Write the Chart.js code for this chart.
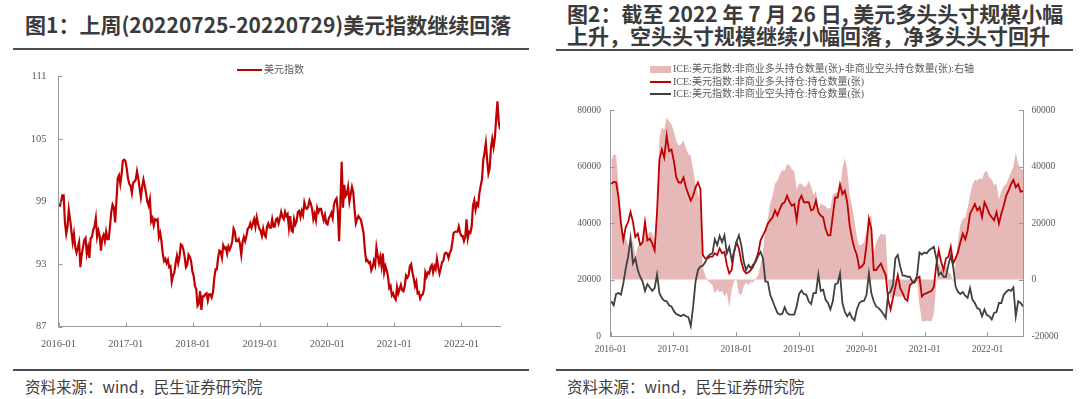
<!DOCTYPE html>
<html lang="zh-CN">
<head>
<meta charset="UTF-8">
<title>美元指数与ICE美元指数持仓</title>
<script src="https://cdn.jsdelivr.net/npm/chart.js"></script>
<style>
  body { margin: 0; width: 1080px; height: 399px; background: #fff; position: relative; overflow: hidden;
         font-family: "Noto Sans CJK SC", sans-serif; }
  .title { position: absolute; font-weight: 700; font-size: 21px; color: #3b3b3b; white-space: nowrap; }
  .rule { position: absolute; height: 2px; background: #4d4d4d; }
  .source { position: absolute; font-size: 15.5px; line-height: 20px; color: #404040; white-space: nowrap; }
  canvas { position: absolute; }
  .legend { position: absolute; font-family: "Liberation Serif", "Noto Sans CJK SC", serif; font-size: 10px;
            color: #595959; white-space: nowrap; }
  .legend div { height: 12.5px; line-height: 12.5px; display: flex; align-items: center; }
  .sw { display: inline-block; width: 21px; margin-right: 2px; }
</style>
</head>
<body>
  <div class="title" style="left:25px; top:10px; line-height:28px;">图1：上周(20220725-20220729)美元指数继续回落</div>
  <div class="rule" style="left:13px; top:48px; width:516px;"></div>

  <div class="title" style="left:567px; top:2px; line-height:22px;">图2：截至 2022 年 7 月 26 日, 美元多头头寸规模小幅<br>上升，空头头寸规模继续小幅回落，净多头头寸回升</div>
  <div class="rule" style="left:556px; top:49px; width:517px;"></div>

  <canvas id="c1" width="520" height="300" style="left:0; top:58px; width:520px; height:300px;"></canvas>
  <canvas id="c2" width="535" height="265" style="left:545px; top:95px; width:535px; height:265px;"></canvas>

  <div class="legend" style="left:237px; top:64px;">
    <div><span class="sw" style="height:2px; background:#c00000; width:25px;"></span>美元指数</div>
  </div>
  <div class="legend" style="left:650px; top:63px;">
    <div><span class="sw" style="height:7px; background:#e6b9b8;"></span>ICE:美元指数:非商业多头持仓数量(张)-非商业空头持仓数量(张):右轴</div>
    <div><span class="sw" style="height:2px; background:#c00000;"></span>ICE:美元指数:非商业多头持仓:持仓数量(张)</div>
    <div><span class="sw" style="height:2px; background:#404040;"></span>ICE:美元指数:非商业空头持仓:持仓数量(张)</div>
  </div>

  <div class="rule" style="left:13px; top:369px; width:516px;"></div>
  <div class="rule" style="left:556px; top:369px; width:517px;"></div>
  <div class="source" style="left:25px; top:376px;">资料来源：wind，民生证券研究院</div>
  <div class="source" style="left:567px; top:376px;">资料来源：wind，民生证券研究院</div>

<script>
// x axis labels shared by both charts
const xTickYears = [2016, 2017, 2018, 2019, 2020, 2021, 2022];
const xTickLabels = ['2016-01', '2017-01', '2018-01', '2019-01', '2020-01', '2021-01', '2022-01'];

// 图1 美元指数, weekly (Fridays) from 2016-01-08 to 2022-07-29
const dxyStart = '2016-01-08';
const dxy2016 = [98.5, 99.0, 99.6, 99.6, 97.0, 95.9, 96.6, 98.2, 97.3, 96.2, 95.1, 95.9,
  94.6, 94.1, 94.6, 95.1, 92.7, 93.9, 94.6, 95.3, 95.5, 94.0, 94.6, 93.6, 95.5,
  95.6, 96.3, 96.6, 97.4, 95.6, 96.2, 95.7, 94.3, 95.5, 95.8, 95.2, 96.1, 95.4, 95.4,
  96.6, 98.0, 98.7, 98.4, 97.0, 99.0, 101.2, 101.5, 100.7, 101.6, 102.9, 103.0, 102.9];
const dxy2017 = [102.2, 101.2, 100.7, 100.5, 99.8, 100.8, 100.9, 101.1, 101.9, 101.2, 100.3, 99.4, 100.4,
  101.1, 100.5, 99.8, 99.0, 98.6, 99.2, 97.1, 97.4, 96.7, 97.3, 97.2, 97.3, 95.6,
  96.0, 95.2, 94.0, 93.3, 93.5, 93.1, 93.4, 92.7, 92.8, 91.3, 91.9, 92.2, 93.1,
  93.8, 93.1, 93.7, 94.9, 94.8, 94.4, 93.7, 92.7, 92.9, 93.9, 93.7, 93.3, 92.3];
const dxy2018 = [91.9, 90.9, 90.6, 89.0, 89.2, 90.4, 88.6, 89.9, 89.9, 90.1, 90.2, 89.5, 90.1,
  90.1, 89.8, 90.3, 91.6, 92.5, 92.5, 93.6, 94.3, 94.2, 93.6, 94.8, 94.5, 94.6,
  94.0, 94.7, 94.4, 94.7, 95.2, 96.4, 96.1, 95.2, 95.2, 95.4, 94.9, 93.9, 95.1,
  95.6, 95.2, 95.7, 96.4, 96.5, 96.9, 96.5, 96.9, 97.3, 96.6, 97.5, 96.9, 96.4];
const dxy2019 = [96.2, 95.7, 96.4, 95.8, 95.6, 96.6, 96.9, 96.5, 96.5, 97.3, 96.6, 96.6, 97.3,
  97.4, 96.9, 97.4, 98.0, 97.5, 97.3, 98.0, 97.6, 97.8, 96.5, 97.6, 96.2, 96.1,
  97.3, 96.8, 97.1, 98.0, 98.1, 97.5, 98.1, 97.7, 98.9, 98.4, 98.3, 98.5, 99.1,
  98.8, 98.3, 97.3, 97.8, 97.2, 98.4, 98.0, 98.3, 98.3, 97.7, 97.2, 97.7, 96.9];
const dxy2020 = [96.8, 97.4, 97.6, 97.9, 97.4, 98.7, 99.1, 99.3, 98.1, 95.2, 98.7, 102.8, 98.4,
  100.6, 99.5, 99.7, 100.4, 99.0, 99.7, 100.4, 99.9, 98.3, 96.9, 97.3, 97.6, 97.4,
  97.2, 96.6, 96.0, 94.4, 93.3, 93.4, 93.1, 93.2, 92.4, 92.7, 93.3, 92.9, 94.6,
  93.8, 93.1, 93.7, 92.8, 94.0, 92.2, 92.8, 92.4, 91.8, 90.7, 90.9, 90.0, 90.2];
const dxy2021 = [89.8, 89.6, 90.8, 90.2, 90.6, 91.0, 90.5, 90.4, 90.9, 91.9, 91.7, 91.9, 92.8,
  93.0, 92.2, 91.6, 90.9, 91.3, 90.2, 90.3, 89.7, 90.0, 90.1, 90.6, 92.2, 91.8,
  92.2, 92.1, 92.7, 92.9, 92.2, 92.8, 92.5, 93.5, 92.7, 92.1, 92.6, 93.2, 93.3,
  94.0, 94.1, 94.0, 93.6, 94.1, 94.3, 95.1, 96.0, 96.1, 96.1, 96.1, 96.6, 96.0, 95.7];
const dxy2022 = [95.7, 95.2, 95.6, 97.3, 95.5, 96.1, 96.0, 96.6, 98.6, 99.1, 98.2, 98.8,
  98.6, 99.8, 100.5, 101.1, 103.0, 103.7, 104.6, 103.0, 101.7, 102.2, 104.2, 105.0, 104.2,
  105.1, 106.9, 108.6, 106.7, 105.9];

// 图2 ICE美元指数 非商业持仓, every second weekly report from 2016-01-05 to 2022-07-26
const cotStart = '2016-01-05';
const longPos = [54000, 54600, 54500, 49100, 40000, 34000, 38600, 40400, 43900, 40400,
  35100, 36300, 32200, 33300, 40400, 33900, 34500, 32800, 30400, 43900,
  62600, 66100, 63200, 71000, 65500, 66100, 62000, 56200, 54400, 54400,
  56200, 52700, 50300, 48000, 49700, 52700, 54400, 52100, 28700, 27500,
  27500, 28100, 28100, 29300, 28700, 31000, 29300, 29800, 25200, 22200,
  23400, 29800, 33300, 31000, 26300, 23400, 22200, 22600, 23400, 24600,
  26900, 29300, 33900, 35700, 37400, 39800, 41000, 42100, 44500, 42700,
  45000, 46800, 47400, 49700, 47600, 46200, 46800, 41000, 48000, 49700,
  47400, 47400, 47400, 44500, 45000, 48000, 43900, 42700, 42100, 38000,
  35700, 35700, 42700, 49100, 49100, 53800, 50300, 51500, 47400, 39200,
  34500, 31000, 28700, 24000, 24600, 25700, 32200, 41500, 38000, 23400,
  23400, 24600, 25700, 23400, 21600, 12900, 9400, 13500, 17500, 21600,
  17000, 15200, 13200, 12500, 18100, 18700, 19000, 20500, 21000, 14000,
  14900, 15200, 15600, 16000, 17500, 25200, 30400, 26300, 23400, 27500,
  28100, 31600, 25700, 27500, 29800, 33300, 36300, 34300, 37400, 43300,
  45000, 46800, 44500, 45600, 42100, 47400, 45600, 43300, 42100, 41000,
  43900, 39800, 43300, 46200, 49700, 51500, 53800, 55300, 52700, 53800,
  51100, 51500];
const shortPos = [12300, 10900, 14900, 15200, 14600, 18700, 24000, 28100, 34500, 25700,
  27500, 23400, 21000, 19300, 16000, 18400, 17200, 16000, 17000, 21800,
  15200, 13500, 12500, 12300, 10900, 10500, 8800, 7800, 7400, 7000,
  7600, 7000, 6700, 3500, 10500, 19300, 23400, 24600, 24900, 26100,
  28100, 28900, 29300, 34300, 32200, 35500, 33300, 35700, 29300, 31600,
  26900, 29800, 33300, 35700, 32200, 26300, 23400, 25200, 24000, 25400,
  26300, 28400, 29800, 27500, 19300, 19300, 14600, 12500, 10200, 8200,
  7600, 7800, 10200, 8200, 7600, 7600, 7600, 10500, 14900, 16100,
  14900, 14600, 12300, 11300, 15200, 15200, 21800, 16000, 16400, 12900,
  11700, 9400, 12300, 18400, 18700, 22200, 11700, 8500, 7000, 8200,
  6400, 5500, 9400, 11700, 12300, 12500, 14600, 22200, 15200, 12300,
  10500, 9900, 9000, 7800, 6400, 14900, 15800, 18100, 27500, 28700,
  24600, 21400, 21400, 21000, 21000, 19300, 19300, 21400, 29600, 28900,
  29600, 29300, 30400, 31000, 31600, 27500, 21600, 22500, 21000, 21000,
  25200, 28400, 24600, 17500, 15600, 14900, 15600, 14300, 13500, 17000,
  12900, 11700, 9900, 9400, 7000, 9400, 7400, 7000, 5900, 8200,
  8500, 11700, 11700, 14600, 15600, 16400, 16000, 17200, 7000, 12300,
  11700, 10500];
const netPos = [42500, 44500, 44000, 33000, 24000, 15500, 14500, 12400, 10000, 14600,
  8000, 12000, 11200, 14000, 22000, 15500, 17000, 16500, 13500, 22000,
  50000, 54000, 53000, 57500, 56000, 55000, 52500, 49000, 47500, 48000,
  49500, 46500, 44500, 44000, 39000, 34000, 30500, 27500, 4500, 1500,
  -500, -1000, -2000, -5000, -3500, -4500, -4000, -6000, -4500, -10000,
  -3500, -500, 0, -5000, -5500, -2500, -1000, -2000, -700, -1000,
  500, 1500, 5000, 10000, 18000, 21500, 27000, 29700, 34000, 35000,
  37300, 38800, 38500, 41000, 40500, 39000, 38500, 32000, 34000, 34000,
  33000, 33000, 35000, 33000, 30000, 31500, 25000, 27000, 26500, 26000,
  25000, 25500, 30000, 30800, 31000, 31500, 39500, 43000, 39000, 30000,
  26000, 21000, 15000, 12200, 12300, 13500, 17000, 22000, 22700, 9500,
  13000, 15000, 16300, 16000, 16000, -2000, -7000, -5500, -6000, -6000,
  -6000, -6000, -6000, -7000, -2800, -1500, -500, -500, -9000, -14800,
  -14800, -14500, -14800, -14800, -12000, -1000, 6000, 4000, 3500, 5000,
  2500, 2000, -1000, 6000, 13500, 19500, 21500, 22000, 25500, 30000,
  33500, 35500, 35000, 36000, 35500, 38000, 38500, 36200, 35500, 33500,
  34000, 28500, 31500, 33000, 34000, 35800, 38000, 40000, 45000, 41000,
  39200, 39000];

const DAY = 864e5;
function toYear(t) { return 2016 + (t - Date.UTC(2016, 0, 1)) / (365.25 * DAY); }
function points(start, stepDays, values) {
  const t0 = Date.parse(start + 'T00:00:00Z');
  return values.map((v, i) => ({ x: toYear(t0 + i * stepDays * DAY), y: v }));
}

const dxyPoints = points(dxyStart, 7, [].concat(dxy2016, dxy2017, dxy2018, dxy2019, dxy2020, dxy2021, dxy2022));
const longPoints = points(cotStart, 14, longPos);
const shortPoints = points(cotStart, 14, shortPos);
const netPoints = points(cotStart, 14, netPos);

const serif = '"Liberation Serif", "Times New Roman", serif';
const axisGrey = '#9a9a9a';

// short tick marks pointing into the plot, like the original
const innerTicks = {
  id: 'innerTicks',
  afterDraw(chart) {
    const ctx = chart.ctx, a = chart.chartArea;
    ctx.save();
    ctx.lineWidth = 1;
    Object.values(chart.scales).forEach(s => {
      ctx.strokeStyle = s.options.border.color;
      s.ticks.forEach(t => {
        const p = Math.round(s.getPixelForValue(t.value)) + 0.5;
        ctx.beginPath();
        if (s.axis === 'x') { ctx.moveTo(p, a.bottom); ctx.lineTo(p, a.bottom - 4); }
        else if (s.position === 'left') { ctx.moveTo(a.left, p); ctx.lineTo(a.left + 4, p); }
        else { ctx.moveTo(a.right, p); ctx.lineTo(a.right - 4, p); }
        ctx.stroke();
      });
    });
    ctx.restore();
  }
};

function xScale(lastX, pad, size, height) {
  return {
    type: 'linear', min: 2016, max: lastX,
    grid: { drawOnChartArea: false, drawTicks: false },
    border: { color: axisGrey },
    ticks: { color: '#595959', font: { family: serif, size: size }, padding: pad, maxRotation: 0,
             callback: (v, i) => xTickLabels[i] },
    afterBuildTicks: s => { s.ticks = xTickYears.map(v => ({ value: v })); },
    afterFit: s => { s.height = height; }
  };
}

// 图1
new Chart(document.getElementById('c1'), {
  type: 'line',
  data: {
    datasets: [{
      label: '美元指数', data: dxyPoints,
      borderColor: '#c00000', borderWidth: 2.2, pointRadius: 0, tension: 0
    }]
  },
  options: {
    responsive: false, animation: false,
    layout: { padding: { top: 10.3, right: 20, left: 0, bottom: 0 } },
    plugins: { legend: { display: false }, tooltip: { enabled: false } },
    scales: {
      x: xScale(dxyPoints[dxyPoints.length - 1].x, 11, 10.5, 31.3),
      y: {
        min: 87, max: 111,
        grid: { drawOnChartArea: false, drawTicks: false },
        border: { color: axisGrey },
        ticks: { stepSize: 6, color: '#595959', font: { family: serif, size: 10.5 }, padding: 12 },
        afterFit: s => { s.width = 58.5; }
      }
    }
  },
  plugins: [innerTicks]
});

// 图2
new Chart(document.getElementById('c2'), {
  type: 'line',
  data: {
    datasets: [
      { label: 'ICE:美元指数:非商业空头持仓:持仓数量(张)', data: shortPoints, yAxisID: 'y',
        borderColor: '#404040', borderWidth: 1.8, pointRadius: 0, order: 0 },
      { label: 'ICE:美元指数:非商业多头持仓:持仓数量(张)', data: longPoints, yAxisID: 'y',
        borderColor: '#c00000', borderWidth: 1.8, pointRadius: 0, order: 1 },
      { label: 'ICE:美元指数:非商业多头持仓数量(张)-非商业空头持仓数量(张):右轴', data: netPoints, yAxisID: 'y1',
        borderWidth: 0, pointRadius: 0, fill: 'origin', backgroundColor: '#e6b9b8', order: 2 }
    ]
  },
  options: {
    responsive: false, animation: false,
    layout: { padding: { top: 11.7, right: 0, left: 0, bottom: 0 } },
    plugins: { legend: { display: false }, tooltip: { enabled: false } },
    scales: {
      x: xScale(longPoints[longPoints.length - 1].x, 7.3, 9.5, 24),
      y: {
        position: 'left', min: 0, max: 80000,
        grid: { drawOnChartArea: false, drawTicks: false },
        border: { color: axisGrey },
        ticks: { stepSize: 20000, color: '#595959', font: { family: serif, size: 9.5 }, padding: 9.6,
                 callback: v => String(v) },
        afterFit: s => { s.width = 65.6; }
      },
      y1: {
        position: 'right', min: -20000, max: 60000,
        grid: { drawOnChartArea: false, drawTicks: false },
        border: { color: '#8c99ad' },
        ticks: { stepSize: 20000, color: '#595959', font: { family: serif, size: 9.5 }, padding: 8.5,
                 callback: v => String(v) },
        afterFit: s => { s.width = 57; }
      }
    }
  },
  plugins: [innerTicks]
});
</script>
</body>
</html>
